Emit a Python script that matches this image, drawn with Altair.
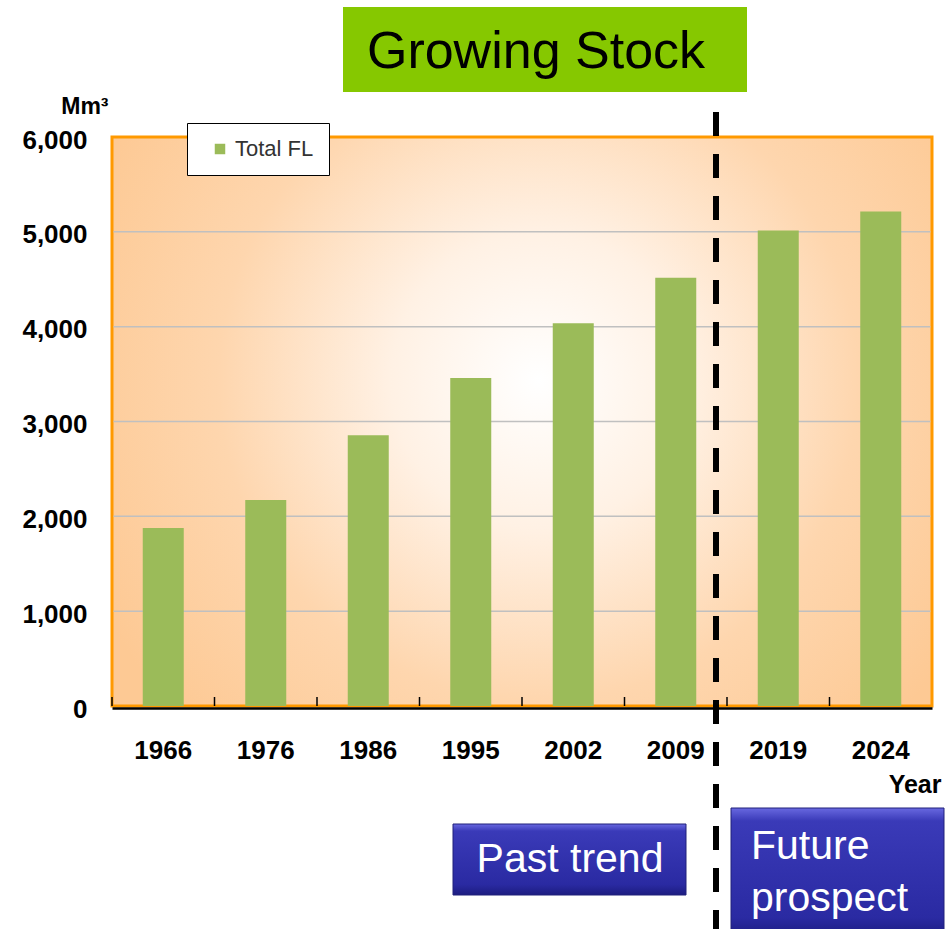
import altair as alt
import pandas as pd

years = ["1966", "1976", "1986", "1995", "2002", "2009", "2019", "2024"]
stock = [1877, 2172, 2856, 3460, 4035, 4515, 5015, 5215]
series = ["Total FL"] * len(years)
grid_values = [1000, 2000, 3000, 4000, 5000]

W, H = 820, 569

df = pd.DataFrame({"Year": years, "Stock": stock, "Series": series})
gdf = pd.DataFrame({"g": grid_values})
one = pd.DataFrame({"k": [0]})

yscale = alt.Scale(domain=[0, 6000])
xscale = alt.Scale(domain=years, paddingInner=0.6, paddingOuter=0.3)
step = W / len(years)

xaxis = alt.Axis(title="Year", labelAngle=0, zindex=1, offset=2,
                 labelFont="Liberation Sans",
                 labelFontWeight="bold", labelFontSize=26, labelColor="#000",
                 labelPadding=29, ticks=False, domainColor="#000", domainWidth=2.5,
                 titleFont="Liberation Sans",
                 titleFontWeight="bold", titleFontSize=25, titleColor="#000",
                 titleAnchor="end", titleAlign="right", titleX=W + 9, titleY=89,
                 titleBaseline="bottom", grid=False)

bg = alt.Chart(one).mark_rect(
    color={
        "gradient": "radial",
        "x1": 0.52, "y1": 0.45, "r1": 0.0,
        "x2": 0.52, "y2": 0.45, "r2": 0.6,
        "stops": [
            {"offset": 0.0, "color": "#FFFFFF"},
            {"offset": 0.3, "color": "#FFF1E4"},
            {"offset": 0.65, "color": "#FED6AE"},
            {"offset": 1.0, "color": "#FDC994"},
        ],
    },
    stroke="#FF9900", strokeWidth=3,
).encode(x=alt.value(0), x2=alt.value(W), y=alt.value(0), y2=alt.value(H))

grid = alt.Chart(gdf).mark_rule(color="#C0C0C0", strokeWidth=1.5).encode(
    y=alt.Y("g:Q", scale=yscale), x=alt.value(1.5), x2=alt.value(W - 1.5)
)

bars = alt.Chart(df).mark_bar(opacity=1).encode(
    x=alt.X("Year:N", scale=xscale, axis=xaxis),
    y=alt.Y("Stock:Q", scale=yscale,
            axis=alt.Axis(title="Mm³", titleAngle=0, titleAlign="right", titleBaseline="bottom",
                          titleX=-4, titleY=-19, titleFont="Liberation Sans", titleFontWeight="bold",
                          titleFontSize=23, titleColor="#000",
                          values=[0, 1000, 2000, 3000, 4000, 5000, 6000], format=",d",
                          labelFont="Liberation Sans", labelFontWeight="bold", labelFontSize=26,
                          labelColor="#000", labelPadding=25, labelOffset=3, ticks=False,
                          domain=False, grid=False)),
    color=alt.Color("Series:N", scale=alt.Scale(domain=["Total FL"], range=["#9BBB59"]),
                    legend=alt.Legend(title=None, orient="none", legendX=75, legendY=-14,
                                      fillColor="#FFFFFF", strokeColor="#000000", padding=15,
                                      symbolType="square", symbolSize=110, symbolOffset=7,
                                      symbolStrokeWidth=0, labelFont="Liberation Sans",
                                      labelFontSize=22, labelColor="#333333", labelLimit=200)),
)

xticks = alt.Chart(df).mark_rule(color="#000", strokeWidth=1.5, xOffset=-0.3 * step).encode(
    x=alt.X("Year:N", scale=xscale, bandPosition=0, axis=xaxis),
    y=alt.value(H - 9), y2=alt.value(H)
)

divider = alt.Chart(one).mark_rule(color="#000", strokeWidth=6, strokeDash=[24, 18]).encode(
    x=alt.value(604), y=alt.value(-25), y2=alt.value(800)
)

title_box = alt.Chart(one).mark_rect(color="#86C800").encode(
    x=alt.value(231), x2=alt.value(635), y=alt.value(-130), y2=alt.value(-45)
)
title_txt = alt.Chart(pd.DataFrame({"t": ["Growing Stock"]})).mark_text(
    font="Liberation Sans", fontSize=52, color="#000", align="center", baseline="middle"
).encode(x=alt.value(424), y=alt.value(-85), text="t:N")

blue = {
    "gradient": "linear", "x1": 0, "y1": 0, "x2": 0, "y2": 1,
    "stops": [
        {"offset": 0.0, "color": "#6868E0"},
        {"offset": 0.1, "color": "#3A3AB8"},
        {"offset": 0.85, "color": "#2A2AA2"},
        {"offset": 1.0, "color": "#1C1C80"},
    ],
}
past_box = alt.Chart(one).mark_rect(color=blue, stroke="#20207A", strokeWidth=1).encode(
    x=alt.value(341), x2=alt.value(574), y=alt.value(687), y2=alt.value(758)
)
past_txt = alt.Chart(pd.DataFrame({"t": ["Past trend"]})).mark_text(
    font="Liberation Sans", fontSize=41, color="#FFFFFF", align="center", baseline="middle"
).encode(x=alt.value(458), y=alt.value(723), text="t:N")

fut_box = alt.Chart(one).mark_rect(color=blue, stroke="#20207A", strokeWidth=1).encode(
    x=alt.value(619), x2=alt.value(832), y=alt.value(671), y2=alt.value(800)
)
fut_txt = alt.Chart(pd.DataFrame({"t": [["Future", "prospect"]]})).mark_text(
    font="Liberation Sans", fontSize=41, color="#FFFFFF", align="left", baseline="top",
    lineHeight=52
).encode(x=alt.value(639), y=alt.value(690), text="t")

chart = alt.layer(
    bg, grid, bars, xticks, divider, title_box, title_txt, past_box, past_txt, fut_box, fut_txt
).properties(
    width=W, height=H,
    autosize=alt.AutoSizeParams(type="none"),
    padding={"left": 112, "top": 137, "right": 18, "bottom": 223},
).configure_view(
    stroke=None
)

chart.save("out.html", embed_options={"renderer": "svg", "actions": False})
